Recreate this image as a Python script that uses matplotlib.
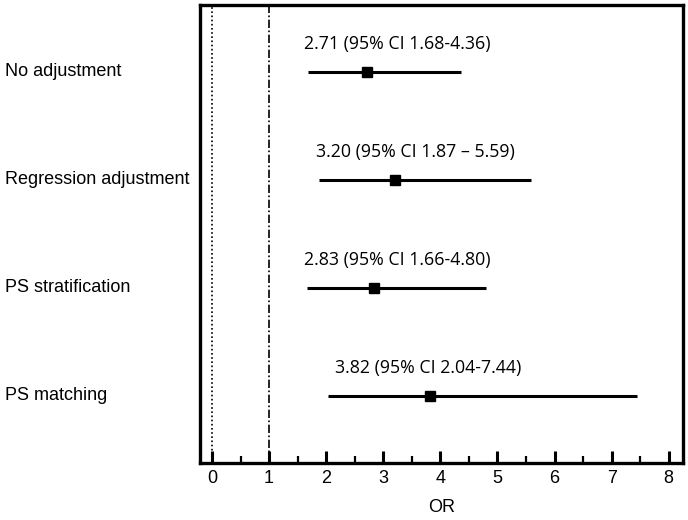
import numpy as np
import matplotlib
matplotlib.use('Agg')
import matplotlib.pyplot as plt
from matplotlib.ticker import MultipleLocator

# datos
metodos = ['No adjustment', 'Regression adjustment', 'PS stratification', 'PS matching']
OR = [2.71, 3.20, 2.83, 3.82]
ci_low = [1.68, 1.87, 1.66, 2.04]
ci_high = [4.36, 5.59, 4.80, 7.44]
etiquetas = ['2.71 (95% CI 1.68-4.36)', '3.20 (95% CI 1.87 \u2013 5.59)',
             '2.83 (95% CI 1.66-4.80)', '3.82 (95% CI 2.04-7.44)']
pos_etiqueta = [3.24, 3.57, 3.24, 3.78]   # centro del texto (en unidades de OR)

fig = plt.figure(figsize=(6.88, 5.2), dpi=100)
ax = fig.add_axes([200/688, 1 - 463/520, 483/688, 458/520])

y = np.arange(len(metodos), 0, -1)

ax.axvline(0, color='black', lw=1.2, ls=(0, (1, 1.5)))
ax.axvline(1, color='black', lw=1.2, ls=(0, (5, 1.5, 1, 1.5)))

for i in range(len(metodos)):
    ax.plot([ci_low[i], ci_high[i]], [y[i], y[i]], color='black', lw=2.2, solid_capstyle='butt')
    ax.plot(OR[i], y[i], marker='s', color='black', ms=7.5)
    ax.text(pos_etiqueta[i], y[i] + 0.26, etiquetas[i], ha='center', va='center',
            fontsize=12.8, family=['Open Sans', 'DejaVu Sans'])
    fig.text(5/688, 1 - (72 + 108*i)/520, metodos[i], ha='left', va='center',
             fontsize=13, family=['Liberation Sans', 'DejaVu Sans'])

ax.set_xlim(-0.21, 8.25)
ax.set_ylim(0.38, 4.62)
ax.set_yticks([])
ax.xaxis.set_major_locator(MultipleLocator(1))
ax.xaxis.set_minor_locator(MultipleLocator(0.5))
ax.tick_params(axis='x', which='major', direction='in', length=9, width=2.2, pad=5)
ax.tick_params(axis='x', which='minor', direction='in', length=5, width=1.6)
for lab in ax.get_xticklabels():
    lab.set_fontsize(13)
    lab.set_family(['Liberation Sans', 'DejaVu Sans'])
ax.set_xlabel('OR', fontsize=13, family=['Liberation Sans', 'DejaVu Sans'], labelpad=9)
for s in ax.spines.values():
    s.set_linewidth(2.4)

fig.savefig('out.png', dpi=100)
